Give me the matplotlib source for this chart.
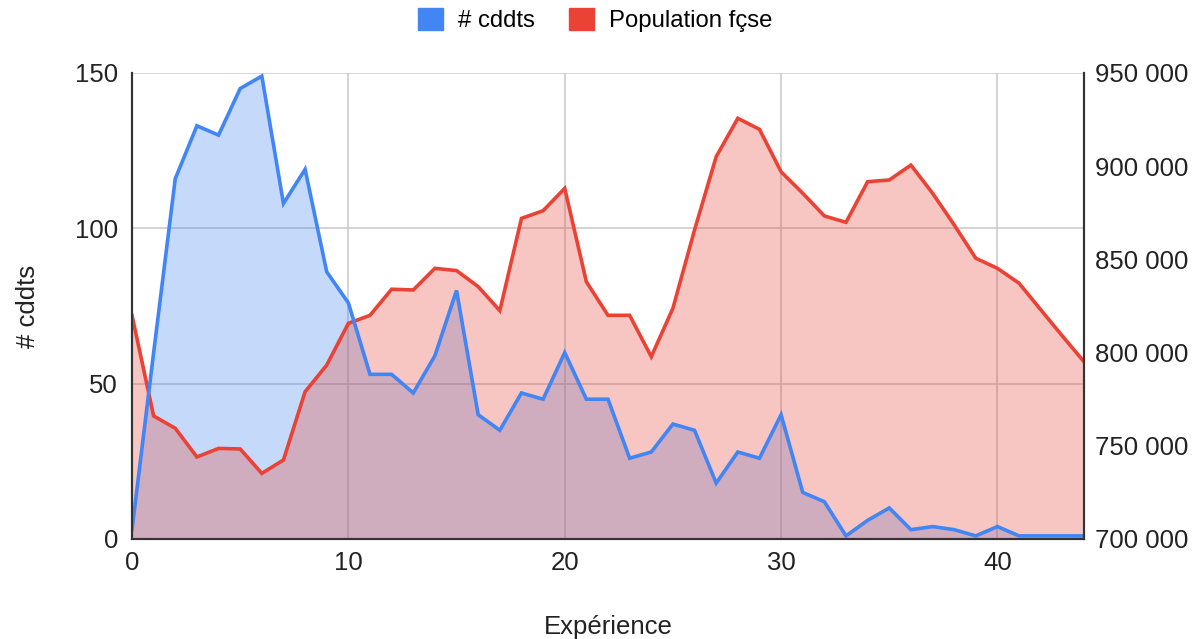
import numpy as np
import matplotlib
matplotlib.use("Agg")
import matplotlib.pyplot as plt
from matplotlib.patches import Patch
from matplotlib.ticker import FuncFormatter

plt.rcParams['font.family'] = ['Liberation Sans', 'DejaVu Sans']

# data
experience = list(range(45))
cddts = [3, 60, 116, 133, 130, 145, 149, 108, 119, 86,
         76, 53, 53, 47, 59, 80, 40, 35, 47, 45,
         60, 45, 45, 26, 28, 37, 35, 18, 28, 26,
         40, 15, 12, 1, 6, 10, 3, 4, 3, 1,
         4, 1, 1, 1, 1]
population = [820000, 766000, 759400, 744000, 748600, 748300, 735200, 742400, 779000, 793300,
              815700, 820000, 834000, 833600, 845200, 844000, 835400, 822500, 872000, 876100,
              888100, 838000, 820000, 820000, 797800, 823800, 865800, 905100, 925700, 919800,
              897000, 885500, 873300, 869900, 891700, 892600, 900600, 885500, 868500, 850600,
              845200, 837200, 823000, 808900, 795100]

blue = '#4285f4'
red = '#ea4335'
fs = 18.5

fig = plt.figure(figsize=(11.92, 6.39), dpi=100)
ax = fig.add_axes([132 / 1192, 1 - 539 / 639, (1084 - 132) / 1192, (539 - 73) / 639])
ax2 = ax.twinx()

ax.fill_between(experience, cddts, 0, color=blue, alpha=0.3, linewidth=0)
ax2.fill_between(experience, population, 700000, color=red, alpha=0.3, linewidth=0)
ax2.plot(experience, population, color=red, linewidth=2.6, solid_joinstyle='miter')
ax2.plot(experience, cddts, color=blue, linewidth=2.6, transform=ax.transData,
         solid_joinstyle='miter')

ax.set_xlim(0, 44)
ax.set_ylim(0, 150)
ax2.set_ylim(700000, 950000)
ax.set_xticks([0, 10, 20, 30, 40])
ax.set_yticks([0, 50, 100, 150])
ax2.set_yticks([700000, 750000, 800000, 850000, 900000, 950000])
ax2.yaxis.set_major_formatter(FuncFormatter(lambda v, p: f"{int(v):,}".replace(',', ' ')))

ax.grid(True, color='#cccccc', linewidth=1.2)
ax.set_axisbelow(True)
for a in (ax, ax2):
    a.tick_params(length=0, labelsize=fs, colors='#222222')
    a.spines['top'].set_visible(False)
    for s in ('left', 'right', 'bottom'):
        a.spines[s].set_color('#333333')
        a.spines[s].set_linewidth(1.5)
ax.tick_params(axis='y', pad=10)
ax.tick_params(axis='x', pad=9)
ax2.tick_params(axis='y', pad=8)

ax.set_ylabel('# cddts', fontsize=fs, color='#222222')
ax.yaxis.set_label_coords(-0.109, 0.5)
ax.yaxis.label.set_verticalalignment('center')
ax.set_xlabel('Expérience', fontsize=fs, color='#222222')
ax.xaxis.set_label_coords(0.5, -0.189)
ax.xaxis.label.set_verticalalignment('center')

handles = [Patch(facecolor=blue, edgecolor=blue), Patch(facecolor=red, edgecolor=red)]
fig.legend(handles, ['# cddts', 'Population fçse'], loc='center',
           bbox_to_anchor=(0.4996, 1 - 20 / 639), ncol=2, frameon=False, fontsize=17.2,
           handlelength=1.05, handleheight=1.05, columnspacing=1.42, handletextpad=0.63)

fig.savefig('out.png', dpi=100)
